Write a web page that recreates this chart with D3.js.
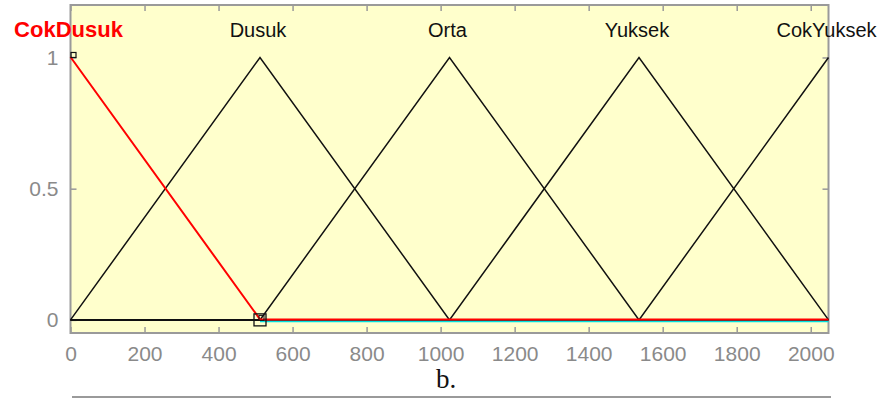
<!DOCTYPE html>
<html>
<head>
<meta charset="utf-8">
<script src="https://cdn.jsdelivr.net/npm/d3@7"></script>
<style>
  html, body { margin: 0; padding: 0; background: #ffffff; }
  svg { display: block; }
</style>
</head>
<body>
<svg id="chart" width="885" height="399"></svg>
<script>
// ---- data ----
const mfNames = ["CokDusuk", "Dusuk", "Orta", "Yuksek", "CokYuksek"];
const mfPeaks = [0, 512, 1024, 1536, 2048];
// breakpoints (x) and membership values (y) of each triangular MF over [0, 2048]
const mfX = [
  [0, 512, 2048],
  [0, 512, 1024, 2048],
  [0, 512, 1024, 1536, 2048],
  [0, 1024, 1536, 2048],
  [0, 1536, 2048]
];
const mfY = [
  [1, 0, 0],
  [0, 1, 0, 0],
  [0, 0, 1, 0, 0],
  [0, 0, 1, 0],
  [0, 0, 1]
];
const selectedIndex = 0;
const xTicks = [0, 200, 400, 600, 800, 1000, 1200, 1400, 1600, 1800, 2000];
const yTicks = [0, 0.5, 1];
const xDomain = [0, 2048];
const yDomain = [-0.05, 1.2];
const caption = "b.";

// ---- layout ----
const svg = d3.select("#chart");
const L = 70.5, R = 828.5, T = 5, B = 333;
const x = d3.scaleLinear().domain(xDomain).range([L, R]);
const y = d3.scaleLinear().domain(yDomain).range([B, T]);

// background
svg.append("rect").attr("x", L).attr("y", T).attr("width", R - L).attr("height", B - T)
  .attr("fill", "#ffffcc");

const gray = "#8a8a8a";
const tickFont = "'Liberation Sans', Arial, sans-serif";

// axes (inward ticks on all sides)
const xb = svg.append("g").attr("transform", `translate(0,${B})`)
  .call(d3.axisBottom(x).tickValues(xTicks).tickSizeInner(-6).tickSizeOuter(0).tickPadding(13)
    .tickFormat(d3.format("d")));
const xt = svg.append("g").attr("transform", `translate(0,${T})`)
  .call(d3.axisTop(x).tickValues(xTicks).tickSizeInner(-6).tickSizeOuter(0).tickFormat(""));
const yl = svg.append("g").attr("transform", `translate(${L},0)`)
  .call(d3.axisLeft(y).tickValues(yTicks).tickSizeInner(-6).tickSizeOuter(0).tickPadding(12)
    .tickFormat(d3.format("")));
const yr = svg.append("g").attr("transform", `translate(${R},0)`)
  .call(d3.axisRight(y).tickValues(yTicks).tickSizeInner(-6).tickSizeOuter(0).tickFormat(""));
[xb, xt, yl, yr].forEach(g => {
  g.select(".domain").remove();
  g.selectAll(".tick line").attr("stroke", "#999").attr("stroke-width", 1.5);
  g.selectAll(".tick text").attr("fill", gray).attr("font-family", tickFont).attr("font-size", 21);
});
xb.selectAll(".tick text").attr("dy", "0.72em");

// box
svg.append("rect").attr("x", L).attr("y", T).attr("width", R - L).attr("height", B - T)
  .attr("fill", "none").attr("stroke", "#9a9a9a").attr("stroke-width", 2);

const line = d3.line().x(d => x(d[0])).y(d => y(d[1]));

// black MF curves
mfNames.forEach((n, i) => {
  if (i === selectedIndex) return;
  const pts = mfX[i].map((v, j) => [v, mfY[i][j]]);
  svg.append("path").attr("d", line(pts)).attr("fill", "none")
    .attr("stroke", "#111").attr("stroke-width", 1.5);
});
// black base under the selected MF and cyan underline
svg.append("line").attr("x1", x(0)).attr("x2", x(mfPeaks[1])).attr("y1", y(0)).attr("y2", y(0))
  .attr("stroke", "#111").attr("stroke-width", 1.5);
svg.append("line").attr("x1", x(mfPeaks[1])).attr("x2", x(xDomain[1])).attr("y1", y(0) + 1.5).attr("y2", y(0) + 1.5)
  .attr("stroke", "#00e0e0").attr("stroke-width", 1.5);
// selected MF (red)
{
  const i = selectedIndex;
  const pts = mfX[i].map((v, j) => [v, mfY[i][j]]);
  svg.append("path").attr("d", line(pts)).attr("fill", "none")
    .attr("stroke", "#ff0000").attr("stroke-width", 2).attr("transform", "translate(0,-0.5)");
}
// handle markers
svg.append("rect").attr("x", x(0) + 0.5).attr("y", y(1) - 5).attr("width", 5).attr("height", 5)
  .attr("fill", "none").attr("stroke", "#111").attr("stroke-width", 1.2);
svg.append("rect").attr("x", x(mfPeaks[1]) - 6).attr("y", y(0) - 6).attr("width", 12).attr("height", 12)
  .attr("fill", "none").attr("stroke", "#111").attr("stroke-width", 1.3);
svg.append("rect").attr("x", x(mfPeaks[1]) - 1).attr("y", y(0) - 4.5).attr("width", 5).attr("height", 5)
  .attr("fill", "none").attr("stroke", "#111").attr("stroke-width", 1);

// MF labels
mfNames.forEach((n, i) => {
  const sel = i === selectedIndex;
  svg.append("text").attr("x", x(mfPeaks[i]) + (sel ? -2 : -2)).attr("y", y(1.078))
    .attr("text-anchor", "middle")
    .attr("font-family", tickFont)
    .attr("font-size", sel ? 22 : 20)
    .attr("font-weight", sel ? "bold" : "normal")
    .attr("fill", sel ? "#ff0000" : "#111")
    .text(n);
});

// caption and rule
svg.append("text").attr("x", 446).attr("y", 388).attr("text-anchor", "middle")
  .attr("font-family", "'Liberation Serif', 'Times New Roman', serif").attr("font-size", 27)
  .attr("fill", "#111").text(caption);
svg.append("line").attr("x1", 72).attr("x2", 831).attr("y1", 397).attr("y2", 397)
  .attr("stroke", "#9a9a9a").attr("stroke-width", 2);
</script>
</body>
</html>
